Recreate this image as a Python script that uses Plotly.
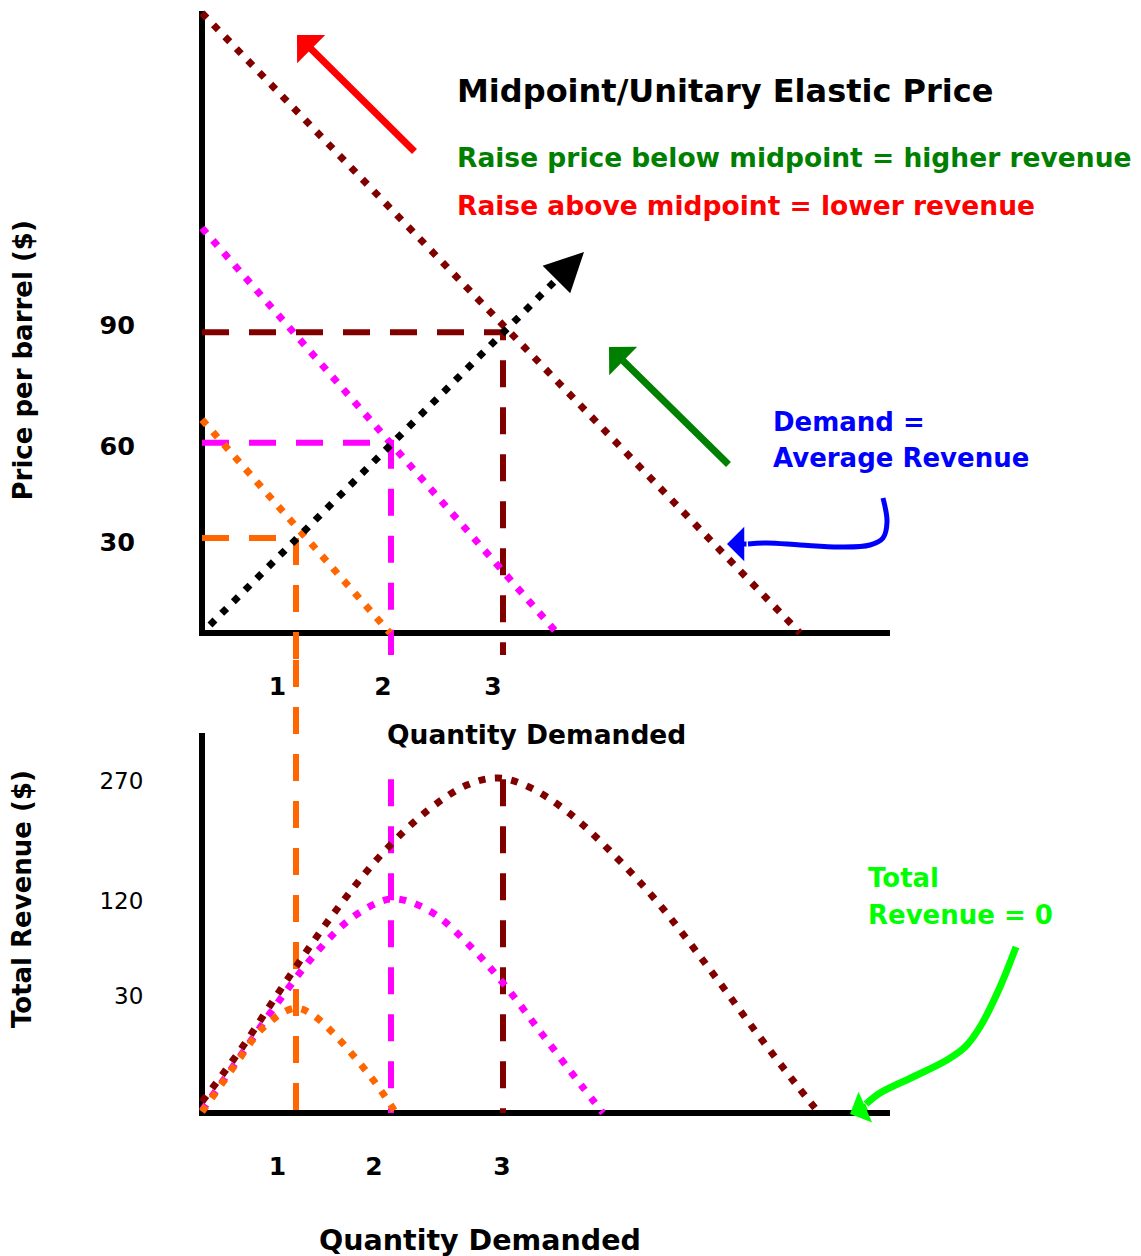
import plotly.graph_objects as go

# ------------------------------------------------------------------
# DATA (in the chart's own units)
# ------------------------------------------------------------------
# Top panel: three demand curves  (quantity, price $)
demand_q_orange = [0, 1.88]
demand_p_orange = [64, 0]
demand_q_magenta = [0, 3.55]
demand_p_magenta = [121.5, 0]
demand_q_brown = [0, 5.98]
demand_p_brown = [186, 0]

# Unit-elastic (midpoint) guide points: orange, magenta, brown
mid_q = [0.94, 1.89, 3.01]
mid_p = [28.5, 57.1, 90.2]

# Black dotted path through the midpoints (tail, head base) and arrow tip
path_q = [0.08, 3.55]
path_p = [2.4, 106.2]
path_tip_q, path_tip_p = 3.82, 114.3

# Bottom panel: total revenue curves (quantity, revenue $)
tr_q_orange = [0, 0.19, 0.38, 0.56, 0.68, 0.80, 0.95, 1.11, 1.34, 1.55, 1.75, 1.94]
tr_r_orange = [1, 22.4, 44, 64, 72.8, 80, 84, 78.4, 61.6, 42.4, 22.4, 0]
tr_q_magenta = [0, 0.37, 0.74, 1.14, 1.47, 1.75, 1.89, 2.05, 2.34, 2.69, 3.01, 3.40, 3.79, 4.01]
tr_r_magenta = [2, 44, 86.4, 128, 154.4, 168, 171.2, 169.6, 158.4, 132.8, 104, 63.2, 22.4, 0]
tr_q_brown = [0, 0.39, 0.83, 1.29, 1.79, 2.25, 2.65, 2.96, 3.27, 3.67, 4.14, 4.57, 5.06, 5.54, 5.93, 6.13]
tr_r_brown = [9, 51.2, 104, 156.8, 206.4, 241.6, 262.4, 268, 260.8, 240, 204.8, 167.2, 116.8, 64.8, 24, 4]

# Tick labels (text and the place where each is printed)
q_tick_text = ["1", "2", "3"]
top_q_tick_pos = [0.755, 1.81, 2.91]
bot_q_tick_pos = [0.755, 1.72, 3.00]
price_tick_text = ["30", "60", "90"]
price_tick_pos = [27.3, 56.1, 92.25]
rev_tick_text = ["30", "120", "270"]
rev_tick_pos = [93.6, 169.6, 265.6]

# Annotation arrows (curved call-outs), in panel units
blue_q = [6.81, 6.85, 6.81, 6.68, 6.38, 5.98, 5.65, 5.46]
blue_p = [40.5, 33.3, 28.5, 26.4, 25.8, 26.4, 27.0, 26.7]
blue_tip = (5.25, 26.7)
lime_q = [8.14, 7.98, 7.78, 7.63, 7.45, 7.11, 6.78, 6.64]
lime_r = [132.8, 100.8, 68.8, 52.8, 42.4, 28.8, 16.0, 7.2]
lime_tip = (6.48, -0.8)

# ------------------------------------------------------------------
# LAYOUT CONSTANTS (page pixels; the page body has an 8 px margin)
# ------------------------------------------------------------------
W, H = 1141, 1256
OFF = 8                 # default body margin of the html page
FW, FH = W - OFF, H - OFF
ORIGIN_X = 202          # page px of quantity 0
PX_PER_Q = 100.0
TOP_ORIGIN_Y = 633      # page px of price 0
PX_PER_P = 100.0 / 30
BOT_ORIGIN_Y = 1113     # page px of revenue 0
PX_PER_R = 1.25
SPLIT_Y = 660           # page px boundary between panels

x_lo = -(ORIGIN_X - OFF) / PX_PER_Q
x_hi = (W - ORIGIN_X) / PX_PER_Q
p_hi = (TOP_ORIGIN_Y - OFF) / PX_PER_P
p_lo = (TOP_ORIGIN_Y - SPLIT_Y) / PX_PER_P
r_hi = (BOT_ORIGIN_Y - SPLIT_Y) / PX_PER_R
r_lo = (BOT_ORIGIN_Y - H) / PX_PER_R
split = 1 - (SPLIT_Y - OFF) / FH

TOP_AXIS_TOP_P = 186.6
BOT_AXIS_TOP_R = 304
AXIS_END_Q = 6.88
GUIDE_BOTTOM_P = -6.6
GUIDE_TOP_R = 267

ORANGE = "#ff6600"
MAGENTA = "#ff00ff"
BROWN = "#800000"
FONT = "DejaVu Sans"

DOT = "7px,9.5px"
DASH = "27px,20px"

fig = go.Figure()


def line(x, y, color, width, dash=None, panel=1, shape="linear"):
    fig.add_trace(go.Scatter(
        x=x, y=y, mode="lines",
        line=dict(color=color, width=width, dash=dash, shape=shape),
        xaxis="x" if panel == 1 else "x2",
        yaxis="y" if panel == 1 else "y2",
        hoverinfo="skip", showlegend=False))


# ---- top panel ----
line([0, 0, AXIS_END_Q], [TOP_AXIS_TOP_P, 0, 0], "black", 6)
# dashed guides
line([0, mid_q[0], mid_q[0]], [mid_p[0], mid_p[0], p_lo], ORANGE, 6, DASH)
line([0, mid_q[1], mid_q[1]], [mid_p[1], mid_p[1], GUIDE_BOTTOM_P], MAGENTA, 6, DASH)
line([0, mid_q[2], mid_q[2]], [mid_p[2], mid_p[2], GUIDE_BOTTOM_P], BROWN, 6, DASH)
# demand curves
line(demand_q_orange, demand_p_orange, ORANGE, 7, DOT)
line(demand_q_magenta, demand_p_magenta, MAGENTA, 7, DOT)
line(demand_q_brown, demand_p_brown, BROWN, 7, DOT)
line(path_q, path_p, "black", 7, DOT)
# blue call-out
line(blue_q, blue_p, "#0000ff", 5, shape="spline")

# ---- bottom panel ----
line([0, 0, AXIS_END_Q], [BOT_AXIS_TOP_R, 0, 0], "black", 6, panel=2)
line([mid_q[0], mid_q[0]], [r_hi, 0], ORANGE, 6, DASH, panel=2)
line([mid_q[1], mid_q[1]], [GUIDE_TOP_R, 0], MAGENTA, 6, DASH, panel=2)
line([mid_q[2], mid_q[2]], [GUIDE_TOP_R, 0], BROWN, 6, DASH, panel=2)
line(tr_q_brown, tr_r_brown, BROWN, 7, DOT, panel=2, shape="spline")
line(tr_q_magenta, tr_r_magenta, MAGENTA, 7, DOT, panel=2, shape="spline")
line(tr_q_orange, tr_r_orange, ORANGE, 7, DOT, panel=2, shape="spline")
line(lime_q, lime_r, "#00ff00", 7, panel=2, shape="spline")


def px(x, y):
    return (x - OFF) / FW, 1 - (y - OFF) / FH


annotations = []


def text(t, x, y, size, color="black", bold=True, xanchor="left", angle=0):
    xx, yy = px(x, y)
    annotations.append(dict(
        text=t, x=xx, y=yy, xref="paper", yref="paper", showarrow=False,
        xanchor=xanchor, yanchor="middle", textangle=angle,
        font=dict(family=FONT, size=size, color=color,
                  weight="bold" if bold else "normal")))


def arrow(tip, tail, color, width, head, size, panel=1):
    xr = "x" if panel == 1 else "x2"
    yr = "y" if panel == 1 else "y2"
    annotations.append(dict(
        text="", x=tip[0], y=tip[1], xref=xr, yref=yr,
        ax=tail[0], ay=tail[1], axref=xr, ayref=yr,
        showarrow=True, arrowhead=head, arrowsize=size, arrowwidth=width,
        arrowcolor=color, standoff=0, startstandoff=0))


text("Midpoint/Unitary Elastic Price", 455, 90.5, 32)
text("Raise price below midpoint = higher revenue", 455, 157, 26.5, "#008000")
text("Raise above midpoint = lower revenue", 455, 205.5, 26.5, "#ff0000")
text("Demand =", 771, 421.7, 26, "#0000ff")
text("Average Revenue", 771, 458, 26, "#0000ff")
text("Total", 866, 878, 26, "#00ff00")
text("Revenue = 0", 866, 915, 26, "#00ff00")
text("Price per barrel ($)", 22, 360.5, 26, xanchor="center", angle=-90)
text("Total Revenue ($)", 22, 899, 26, xanchor="center", angle=-90)
text("Quantity Demanded", 536, 734, 26.5, xanchor="center")
text("Quantity Demanded", 480, 1240, 28.5, xanchor="center")

# straight arrows
arrow((0.95, 179.4), (2.14, 144.0), "#ff0000", 7, 1, 0.95)
arrow((4.07, 85.8), (5.28, 50.1), "#008000", 7, 1, 0.95)
# black path arrow head
arrow((path_tip_q, path_tip_p), (path_q[-1], path_p[-1]), "black", 6, 2, 1.3)
# curved call-out heads
arrow(blue_tip, (blue_q[-1], blue_p[-1]), "#0000ff", 5, 1, 1.15)
arrow(lime_tip, (6.66, 5.6), "#00ff00", 7, 1, 0.8, panel=2)

axis_common = dict(showline=False, showgrid=False, zeroline=False,
                   tickmode="array", ticks="outside",
                   tickcolor="rgba(0,0,0,0)", fixedrange=True)
bold_tick = dict(family=FONT, size=25, color="black", weight="bold")

fig.update_layout(
    width=FW, height=FH, margin=dict(l=0, r=0, t=0, b=0),
    paper_bgcolor="white", plot_bgcolor="white", showlegend=False,
    annotations=annotations,
    xaxis=dict(domain=[0, 1], range=[x_lo, x_hi], anchor="free",
               position=1 - (TOP_ORIGIN_Y - OFF) / FH, tickvals=top_q_tick_pos,
               ticktext=q_tick_text, ticklen=31, tickfont=bold_tick,
               **axis_common),
    yaxis=dict(domain=[split, 1], range=[p_lo, p_hi], anchor="free",
               position=(ORIGIN_X - OFF) / FW, tickvals=price_tick_pos,
               ticktext=price_tick_text, ticklen=62,
               tickfont=dict(family=FONT, size=25.5, color="black", weight="bold"),
               **axis_common),
    xaxis2=dict(domain=[0, 1], range=[x_lo, x_hi], anchor="free",
                position=1 - (BOT_ORIGIN_Y - OFF) / FH, tickvals=bot_q_tick_pos,
                ticktext=q_tick_text, ticklen=31, tickfont=bold_tick,
                **axis_common),
    yaxis2=dict(domain=[0, split], range=[r_lo, r_hi], anchor="free",
                position=(ORIGIN_X - OFF) / FW, tickvals=rev_tick_pos,
                ticktext=rev_tick_text, ticklen=54,
                tickfont=dict(family=FONT, size=23, color="black"),
                **axis_common),
)

fig.write_html("out.html", config={"displayModeBar": False, "staticPlot": True})
